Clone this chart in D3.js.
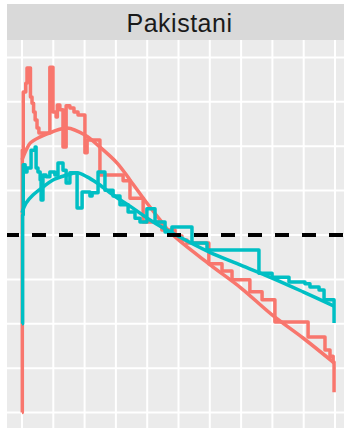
<!DOCTYPE html>
<html>
<head>
<meta charset="utf-8">
<script src="https://cdn.jsdelivr.net/npm/d3@7"></script>
<style>
  html, body { margin: 0; padding: 0; background: #ffffff; }
  svg { display: block; }
</style>
</head>
<body>
<svg id="chart" width="344" height="428"></svg>
<script>
// Facet label
const facetLabel = "Pakistani";

// Grid breaks
const xBreaks = [0, 1, 2, 3, 4, 5, 6, 7, 8, 9, 10];
const yBreaks = [-4, -3, -2, -1, 0, 1, 2, 3, 4];
const refLine = 0;

// Red series: observed (step) values
const redStepX = [0, 0.01, 0.04, 0.12, 0.16, 0.27, 0.32, 0.37, 0.42, 0.48, 0.54,
  0.89, 0.99, 1.09, 1.13, 1.21, 1.31, 1.41, 1.53, 1.66, 1.79, 2.01, 2.08, 2.49,
  3.23, 3.45, 3.87, 4.47, 4.89, 5.11, 5.27, 5.97, 6.39, 6.71, 7.28, 7.67, 8.08,
  9.14, 9.68, 9.84, 9.94, 9.97];
const redStepY = [-4.0, 1.91, 3.22, 3.42, 3.76, 3.11, 2.97, 2.77, 2.59, 2.41, 2.30,
  3.78, 2.77, 2.66, 2.93, 2.82, 1.98, 2.91, 2.86, 2.77, 2.70, 1.85, 2.14, 1.35,
  1.22, 0.83, 0.29, 0.11, -0.02, -0.11, -0.18, -0.65, -0.81, -1.01, -1.28, -1.46, -1.96,
  -2.30, -2.59, -2.73, -2.86, -3.54];

// Teal series: observed (step) values
const tealStepX = [0, 0.02, 0.04, 0.10, 0.16, 0.29, 0.42, 0.45, 0.51, 0.58, 0.61,
  0.67, 0.77, 0.89, 1.05, 1.15, 1.31, 1.41, 1.53, 1.76, 1.92, 2.17, 2.24, 2.43,
  2.65, 2.91, 3.13, 3.39, 3.61, 3.77, 3.99, 4.25, 4.57, 4.79, 5.43, 5.91, 7.57,
  7.99, 8.53, 9.04, 9.20, 9.49, 9.65, 9.97];
const tealStepY = [-2.0, 0.45, 1.58, 1.42, 1.51, 1.91, 1.98, 1.51, 1.42, 1.24, 0.79,
  1.35, 1.31, 1.42, 1.35, 1.62, 1.46, 1.17, 1.40, 0.61, 0.97, 0.88, 0.95, 1.42,
  1.01, 0.88, 0.68, 0.52, 0.38, 0.29, 0.59, 0.29, 0.07, 0.18, -0.18, -0.34, -0.86,
  -0.95, -1.06, -1.10, -1.17, -1.24, -1.46, -1.98];

// Smoothed fits
const redFitX = [0, 0.13, 0.26, 0.58, 0.96, 1.44, 2.01, 2.49, 3.04, 3.45, 3.99,
  4.41, 4.79, 5.97, 6.99, 7.99, 8.98, 9.97];
const redFitY = [1.69, 1.91, 2.07, 2.21, 2.32, 2.41, 2.25, 1.98, 1.62, 1.24, 0.72,
  0.34, 0.02, -0.65, -1.19, -1.80, -2.32, -2.88];
const tealFitX = [0, 0.13, 0.35, 0.67, 0.99, 1.44, 1.76, 2.08, 2.40, 2.91, 3.45,
  4.09, 4.79, 5.97, 6.99, 7.99, 8.98, 9.97];
const tealFitY = [0.50, 0.72, 0.90, 1.08, 1.24, 1.35, 1.40, 1.31, 1.17, 0.90, 0.65,
  0.34, 0.05, -0.38, -0.68, -0.97, -1.28, -1.60];

const colors = { red: "#F8766D", teal: "#00BFC4" };

const svg = d3.select("#chart");

// Panel and strip geometry
const panel = { left: 7, top: 40, right: 352, bottom: 432 };
const strip = { top: 4, bottom: 40 };

const x = d3.scaleLinear().domain([0, 10]).range([22, 335]);
const y = d3.scaleLinear().domain([-4, 4]).range([412.6, 57.4]);

// Strip
svg.append("rect")
  .attr("x", panel.left).attr("y", strip.top)
  .attr("width", panel.right - panel.left)
  .attr("height", strip.bottom - strip.top)
  .attr("fill", "#D9D9D9");
svg.append("text")
  .attr("x", (panel.left + panel.right) / 2)
  .attr("y", 31.5)
  .attr("text-anchor", "middle")
  .attr("font-family", "'Liberation Sans', Arial, sans-serif")
  .attr("font-size", 25)
  .attr("letter-spacing", 0.5)
  .attr("fill", "#1A1A1A")
  .text(facetLabel);

// Panel background
svg.append("defs").append("clipPath").attr("id", "clip")
  .append("rect")
  .attr("x", panel.left).attr("y", panel.top)
  .attr("width", panel.right - panel.left)
  .attr("height", panel.bottom - panel.top);

svg.append("rect")
  .attr("x", panel.left).attr("y", panel.top)
  .attr("width", panel.right - panel.left)
  .attr("height", panel.bottom - panel.top)
  .attr("fill", "#EBEBEB");

const plot = svg.append("g").attr("clip-path", "url(#clip)");

// Grid
plot.append("g").selectAll("line").data(xBreaks).join("line")
  .attr("x1", d => x(d)).attr("x2", d => x(d))
  .attr("y1", panel.top).attr("y2", panel.bottom)
  .attr("stroke", "#FFFFFF").attr("stroke-width", 2);
plot.append("g").selectAll("line").data(yBreaks).join("line")
  .attr("x1", panel.left).attr("x2", panel.right)
  .attr("y1", d => y(d)).attr("y2", d => y(d))
  .attr("stroke", "#FFFFFF").attr("stroke-width", 2);

const zip = (xs, ys) => xs.map((v, i) => [v, ys[i]]);

const stepLine = d3.line().x(d => x(d[0])).y(d => y(d[1])).curve(d3.curveStepAfter);
const fitLine = d3.line().x(d => x(d[0])).y(d => y(d[1])).curve(d3.curveCatmullRom.alpha(0.5));

function drawPath(gen, data, color) {
  plot.append("path")
    .datum(data)
    .attr("d", gen)
    .attr("fill", "none")
    .attr("stroke", color)
    .attr("stroke-width", 3.5)
    .attr("stroke-linejoin", "round");
}

drawPath(stepLine, zip(redStepX, redStepY), colors.red);
drawPath(fitLine, zip(redFitX, redFitY), colors.red);
drawPath(stepLine, zip(tealStepX, tealStepY), colors.teal);
drawPath(fitLine, zip(tealFitX, tealFitY), colors.teal);

// Reference line
plot.append("line")
  .attr("x1", 5).attr("x2", panel.right)
  .attr("y1", y(refLine)).attr("y2", y(refLine))
  .attr("stroke", "#000000")
  .attr("stroke-width", 4)
  .attr("stroke-dasharray", "14 13");
</script>
</body>
</html>
